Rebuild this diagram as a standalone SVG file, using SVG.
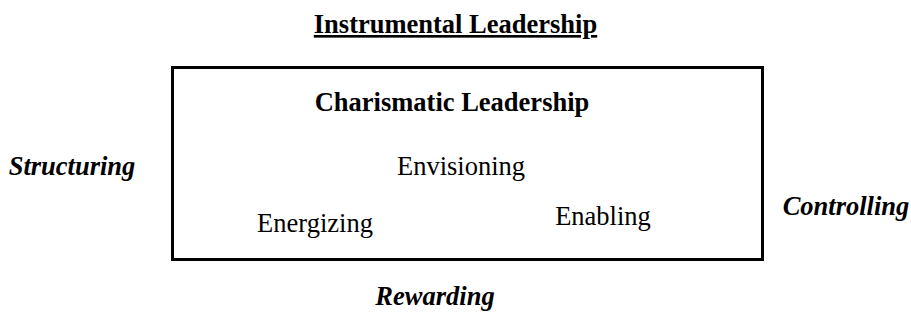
<svg xmlns="http://www.w3.org/2000/svg" width="911" height="320" viewBox="0 0 911 320">
<style>
text{font-family:"Liberation Serif","Times New Roman",serif;font-size:26.5px;fill:#000}
.b{font-weight:bold}
.bi{font-weight:bold;font-style:italic}
.u{text-decoration:underline}
.box{fill:#fff;stroke:#000;stroke-width:3}
</style>
<rect width="911" height="320" fill="#fff"/>
<g id="instrumental"><text class="b u" x="455.5" y="33" text-anchor="middle">Instrumental Leadership</text></g>
<g id="charismatic">
<rect class="box" x="172.5" y="67.5" width="590" height="192"/>
<text class="b" x="452" y="111" text-anchor="middle">Charismatic Leadership</text>
</g>
<g id="envisioning"><text x="461" y="175" text-anchor="middle">Envisioning</text></g>
<g id="energizing"><text x="315" y="232" text-anchor="middle">Energizing</text></g>
<g id="enabling"><text x="603" y="225" text-anchor="middle">Enabling</text></g>
<g id="structuring"><text class="bi" x="72" y="175" text-anchor="middle">Structuring</text></g>
<g id="controlling"><text class="bi" x="846" y="215" text-anchor="middle">Controlling</text></g>
<g id="rewarding"><text class="bi" x="435" y="305" text-anchor="middle">Rewarding</text></g>
<g id="connectors"></g>
</svg>
